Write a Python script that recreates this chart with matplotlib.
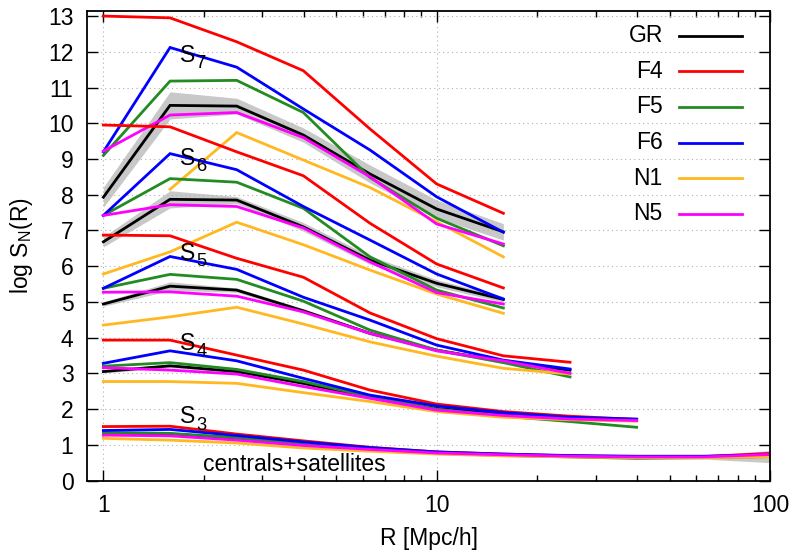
import numpy as np
import matplotlib
matplotlib.use('Agg')
import matplotlib.pyplot as plt
from matplotlib.ticker import FixedLocator, NullFormatter, FixedFormatter

plt.rcParams['font.family'] = ['Liberation Sans', 'DejaVu Sans']
plt.rcParams['mathtext.fontset'] = 'custom'
plt.rcParams['mathtext.rm'] = 'Liberation Sans'
plt.rcParams['mathtext.it'] = 'Liberation Sans:italic'

nan = np.nan
R = [1.0, 1.585, 2.512, 3.981, 6.310, 10.0, 15.85, 25.12, 39.81, 63.10, 100.0]

models = ['GR', 'F4', 'F5', 'F6', 'N1', 'N5']
colors = ['#000000', '#ff0000', '#228b22', '#0000ff', '#ffb820', '#ff00ff']

# S7
S7_GR = [7.93, 10.50, 10.48, 9.67, 8.58, 7.60, 6.96]
S7_F4 = [13.00, 12.95, 12.28, 11.47, 9.84, 8.30, 7.48]
S7_F5 = [9.10, 11.18, 11.20, 10.30, 8.48, 7.34, 6.57]
S7_F6 = [9.20, 12.12, 11.57, 10.40, 9.25, 7.94, 6.95]
S7_N1 = [nan, 8.15, 9.74, 8.97, 8.20, 7.24, 6.26]
S7_N5 = [9.22, 10.23, 10.30, 9.60, 8.50, 7.18, 6.62]
S7_GR_err = [0.28, 0.38, 0.22, 0.20, 0.25, 0.25, 0.23]

# S6
S6_GR = [6.68, 7.87, 7.85, 7.10, 6.17, 5.52, 5.07]
S6_F4 = [9.95, 9.90, 9.20, 8.53, 7.20, 6.06, 5.39]
S6_F5 = [7.42, 8.45, 8.35, 7.62, 6.26, 5.33, 4.83]
S6_F6 = [7.42, 9.15, 8.70, 7.67, 6.73, 5.78, 5.08]
S6_N1 = [5.78, 6.40, 7.23, 6.60, 5.89, 5.22, 4.68]
S6_N5 = [7.42, 7.72, 7.67, 7.07, 6.12, 5.26, 4.94]
S6_GR_err = [0.14, 0.24, 0.10, 0.12, 0.12, 0.10, 0.08]

# S5
S5_GR = [4.94, 5.44, 5.33, 4.75, 4.12, 3.65, 3.33, 3.09]
S5_F4 = [6.87, 6.85, 6.22, 5.69, 4.69, 3.97, 3.49, 3.31]
S5_F5 = [5.38, 5.77, 5.63, 5.02, 4.21, 3.65, 3.30, 2.90]
S5_F6 = [5.38, 6.27, 5.91, 5.13, 4.49, 3.79, 3.37, 3.12]
S5_N1 = [4.35, 4.58, 4.85, 4.38, 3.88, 3.48, 3.14, 2.98]
S5_N5 = [5.27, 5.28, 5.16, 4.72, 4.12, 3.63, 3.35, 3.00]
S5_GR_err = [0.06, 0.12, 0.06, 0.06, 0.05, 0.05, 0.05, 0.05]

# S4
S4_GR = [3.05, 3.21, 3.05, 2.72, 2.32, 2.02, 1.85, 1.73, 1.68]
S4_F4 = [3.93, 3.93, 3.51, 3.09, 2.53, 2.14, 1.93, 1.80, 1.71]
S4_F5 = [3.20, 3.30, 3.11, 2.77, 2.35, 2.00, 1.80, 1.65, 1.49]
S4_F6 = [3.28, 3.63, 3.35, 2.86, 2.39, 2.09, 1.90, 1.77, 1.72]
S4_N1 = [2.77, 2.77, 2.72, 2.46, 2.21, 1.93, 1.77, 1.70, 1.66]
S4_N5 = [3.16, 3.09, 2.98, 2.63, 2.30, 1.97, 1.82, 1.72, 1.68]
S4_GR_err = [0.04, 0.05, 0.04, 0.04, 0.03, 0.03, 0.03, 0.03, 0.03]

# S3
S3_GR = [1.32, 1.30, 1.19, 1.00, 0.88, 0.77, 0.71, 0.67, 0.65, 0.65, 0.67]
S3_F4 = [1.51, 1.52, 1.30, 1.11, 0.93, 0.80, 0.74, 0.69, 0.67, 0.67, 0.76]
S3_F5 = [1.34, 1.32, 1.20, 1.01, 0.88, 0.76, 0.70, 0.66, 0.62, 0.64, 0.70]
S3_F6 = [1.40, 1.43, 1.26, 1.08, 0.92, 0.80, 0.74, 0.70, 0.68, 0.68, 0.72]
S3_N1 = [1.18, 1.13, 1.05, 0.91, 0.82, 0.74, 0.69, 0.66, 0.64, 0.64, 0.66]
S3_N5 = [1.27, 1.25, 1.13, 0.98, 0.87, 0.77, 0.72, 0.68, 0.66, 0.66, 0.73]
S3_GR_err = [0.02, 0.02, 0.02, 0.02, 0.02, 0.02, 0.02, 0.02, 0.03, 0.05, 0.17]

groups = [
    (S7_GR_err, [S7_GR, S7_F4, S7_F5, S7_F6, S7_N1, S7_N5]),
    (S6_GR_err, [S6_GR, S6_F4, S6_F5, S6_F6, S6_N1, S6_N5]),
    (S5_GR_err, [S5_GR, S5_F4, S5_F5, S5_F6, S5_N1, S5_N5]),
    (S4_GR_err, [S4_GR, S4_F4, S4_F5, S4_F6, S4_N1, S4_N5]),
    (S3_GR_err, [S3_GR, S3_F4, S3_F5, S3_F6, S3_N1, S3_N5]),
]
order_labels = ['7', '6', '5', '4', '3']
label_y = [11.71, 8.83, 6.17, 3.65, 1.60]
label_x = 1.70

FS = 16.5
fig = plt.figure(figsize=(7.93, 5.52), dpi=100)
ax = fig.add_axes([0.1101, 0.1295, 0.8609, 0.8511])

LW = 2.0
for err, series in groups:
    n = len(series[0])
    x = np.array(R[:n])
    gr = np.array(series[0])
    e = np.array(err)
    ax.fill_between(x, gr - e, gr + e, color='#c8c8c8', lw=0, zorder=1)
for err, series in groups:
    n = len(series[0])
    x = np.array(R[:n])
    for s, c in zip(series, colors):
        ax.plot(x, s, color=c, lw=LW, zorder=2, solid_joinstyle='miter')

# order labels: "S" with a gnuplot-like subscript (offset in points)
from matplotlib.transforms import offset_copy
for lab, yv in zip(order_labels, label_y):
    t = ax.text(label_x, yv, 'S', fontsize=FS, ha='left', va='baseline', zorder=5)
    sub_tr = offset_copy(ax.transData, fig=fig, x=11.5, y=-4.5, units='points')
    ax.text(label_x, yv, lab, fontsize=FS * 0.8, ha='left', va='baseline',
            transform=sub_tr, zorder=5)
ax.text(1.99, 0.27, 'centrals+satellites', fontsize=FS, ha='left', va='baseline', zorder=5)

# legend (gnuplot style: right-aligned text, then sample line)
y0 = 0.9468
dy = 0.0758
for i, (m, c) in enumerate(zip(models, colors)):
    yy = y0 - i * dy
    ax.text(0.843, yy, m, transform=ax.transAxes, fontsize=FS, ha='right', va='center')
    ax.plot([0.867, 0.959], [yy, yy], transform=ax.transAxes, color=c, lw=LW)

ax.set_xscale('log')
ax.set_xlim(0.895, 100)
ax.set_ylim(0, 13.15)

ax.xaxis.set_major_locator(FixedLocator([1, 10, 100]))
ax.xaxis.set_major_formatter(FixedFormatter(['1', '10', '100']))
minors = [m * d for d in (1, 10) for m in range(2, 10)]
ax.xaxis.set_minor_locator(FixedLocator(minors))
ax.xaxis.set_minor_formatter(NullFormatter())
ax.set_yticks(range(0, 14))

ax.tick_params(which='both', direction='in', top=True, right=True, labelsize=FS)
ax.tick_params(which='major', length=8, width=1.0, pad=10)
ax.tick_params(which='minor', length=4, width=1.0)
ax.grid(True, which='major', color='#b0b0b0', linestyle=(0, (1, 3)), lw=0.8)
for sp in ax.spines.values():
    sp.set_linewidth(1.3)

ax.set_xlabel('R [Mpc/h]', fontsize=FS)
ax.set_ylabel('log S$_\\mathrm{N}$(R)', fontsize=FS)
ax.xaxis.set_label_coords(0.5, -0.100)
ax.yaxis.set_label_coords(-0.0766, 0.5)

fig.savefig('out.png', dpi=100)
